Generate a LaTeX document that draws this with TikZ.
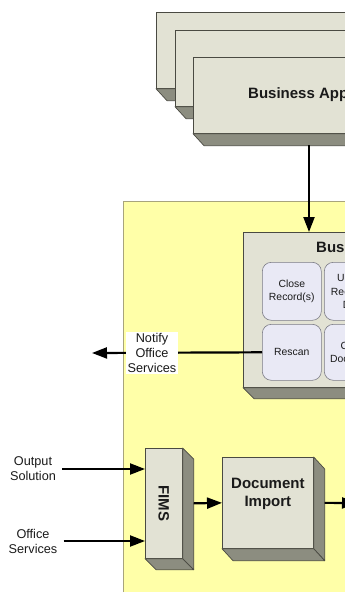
\documentclass[tikz,border=0pt]{standalone}
\usepackage{fontspec}
\setmainfont{Liberation Sans}
\usetikzlibrary{arrows.meta}

\definecolor{facefill}{HTML}{E2E2D4}
\definecolor{sidefill}{HTML}{8C8D80}
\definecolor{edgecol}{HTML}{4A4A42}
\definecolor{zonefill}{HTML}{FFFFA8}
\definecolor{zoneedge}{HTML}{A8A47C}
\definecolor{taskfill}{HTML}{E9E9F5}
\definecolor{taskedge}{HTML}{7C7C86}
\definecolor{inkcol}{HTML}{1A1A1A}

% depth faces of a block: right face and bottom face
\newcommand\extrude[3]{% node name, depth x, depth y
  \filldraw[sideface] (#1.north east) -- ++(#2,#3)
    -- ([shift={(#2,#3)}]#1.south east) -- (#1.south east) -- cycle;
  \filldraw[sideface] (#1.south west) -- (#1.south east)
    -- ([shift={(#2,#3)}]#1.south east) -- ([shift={(#2,#3)}]#1.south west) -- cycle;
}

\tikzset{
  slab/.style={draw=edgecol, fill=facefill, line width=0.7pt, inner sep=0pt,
    anchor=north west, align=center, text=inkcol,
    font=\bfseries\fontsize{15}{18}\selectfont},
  sideface/.style={draw=edgecol, fill=sidefill, line width=0.7pt, line join=round},
  zonebox/.style={draw=zoneedge, fill=zonefill, line width=0.6pt, anchor=north west},
  task/.style={draw=taskedge, fill=taskfill, line width=0.6pt, rounded corners=9pt,
    anchor=north west, minimum width=59pt, align=center, inner sep=0pt, text=inkcol,
    font=\fontsize{10.4}{13.5}\selectfont},
  title/.style={inner sep=0pt, align=center, text=inkcol,
    font=\bfseries\fontsize{15}{18}\selectfont},
  outlabel/.style={inner sep=0pt, align=center, text=inkcol,
    font=\fontsize{12.7}{15}\selectfont},
  arr/.style={line width=2.2pt, draw=black,
    -{Triangle[length=15pt,width=11pt]}},
}

\begin{document}
\begin{tikzpicture}[x=1pt, y=-1pt]
\useasboundingbox (0,0) rectangle (345,592);
\clip (0,0) rectangle (345,592);

% stacked application blocks
\node[slab, minimum width=266pt, minimum height=76pt] (app1) at (156,12) {};
\extrude{app1}{11}{12}
\node[slab, minimum width=266pt, minimum height=76pt] (app2) at (175,30) {};
\extrude{app2}{11}{12}
\node[slab, minimum width=266pt, minimum height=76pt] (app3) at (193,57) {};
\extrude{app3}{11}{12}
\node[title, anchor=west] (app3label) at (248,95) {Business Applications};

% shaded zone
\node[zonebox, minimum width=300pt, minimum height=420pt] (zone) at (123,201) {};

% services block
\node[slab, minimum width=280pt, minimum height=155pt] (bsvc) at (243,232) {};
\extrude{bsvc}{11}{11}
\node[title, anchor=west] (bsvctitle) at (316,247) {Business Services};

\node[task, minimum height=58pt] (closerec) at (262,262) {Close\\Record(s)};
\node[task, minimum height=58pt] (updrec) at (324,262) {Update\\Record(s)\\Data};
\node[task, minimum height=56pt] (rescan) at (262,324) {Rescan};
\node[task, minimum height=56pt] (closedoc) at (324,324) {Close\\Document};

% link from applications down to services
\coordinate (appbase) at (309,145);
\draw[arr] (appbase) -- (appbase |- bsvc.north);

% notification going out
\coordinate (notifyend) at (92,353);
\draw[arr] (rescan.west) -- (notifyend);
\node[outlabel, fill=white, inner sep=1.5pt] (notify) at (152,353) {Notify\\Office\\Services};

% import chain
\node[slab, minimum width=37pt, minimum height=110pt] (fims) at (145,448) {};
\extrude{fims}{11}{11}
\node[title, rotate=-90] (fimslabel) at (fims.center) {FIMS};

\node[slab, minimum width=91pt, minimum height=91pt] (docimp) at (222,457) {};
\extrude{docimp}{11}{12}
\node[title] (docimplabel) at ([yshift=9pt]docimp.center) {Document\\Import};

\node[outlabel] (outsol) at (33,469) {Output\\Solution};
\node[outlabel] (offsvc) at (33,541) {Office\\Services};

\draw[arr] ([xshift=6pt]outsol.east) -- (outsol.east -| fims.west);
\draw[arr] ([xshift=6pt]offsvc.east) -- (offsvc.east -| fims.west);
\draw[arr] ([xshift=11pt]fims.east) -- (docimp.west);
\coordinate (importout) at (357,503);
\draw[arr] ([xshift=11pt]docimp.east) -- (importout);
\end{tikzpicture}
\end{document}
